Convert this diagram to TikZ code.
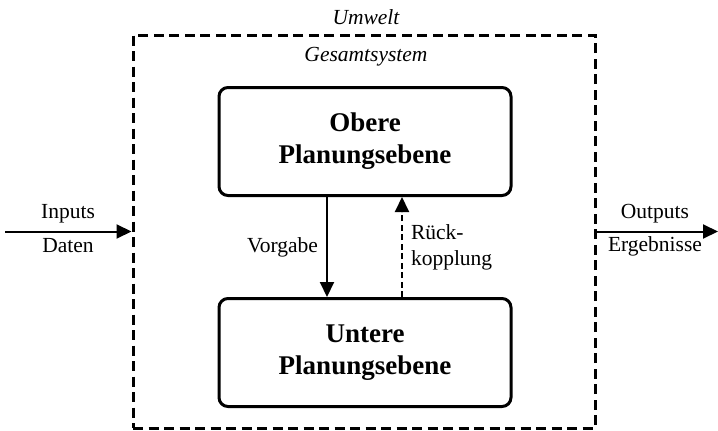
\documentclass[tikz,border=0pt]{standalone}
\usepackage{fontspec}
\setmainfont{Liberation Serif}
\usepackage{tikz}
\usetikzlibrary{arrows.meta, positioning, calc}
\tikzset{
  planbox/.style={rectangle, draw=black, fill=white,
    minimum width=292pt, minimum height=108pt, align=center,
    font=\fontsize{27}{32}\selectfont\bfseries, rounded corners=9pt, line width=3pt},
  sysbox/.style={rectangle, draw=black, dash pattern=on 10pt off 5.5pt,
    minimum width=462pt, minimum height=393pt, line width=3pt},
  lbl/.style={font=\fontsize{21.5}{26}\selectfont, inner sep=2pt},
  itlbl/.style={font=\fontsize{21.5}{26}\selectfont\itshape, inner sep=2pt},
  arrow/.style={-{Triangle[length=15pt,width=14pt]}, line width=2pt, color=black},
  dasharrow/.style={arrow, dash pattern=on 6pt off 3.5pt}
}
\begin{document}
\begin{tikzpicture}[x=1pt, y=-1pt]
  \useasboundingbox (0,0) rectangle (718,431);

  % Gesamtsystem
  \node[sysbox] (sys) at (364,231.5) {};
  \node[itlbl] (umwelt) at (366,17) {Umwelt};
  \node[itlbl] (gesamt) at (366,57) {Gesamtsystem};

  % Planungsebenen
  \node[planbox] (obere) at (365,141.5) {Obere\\Planungsebene};
  \node[planbox] (untere) at (365,352.5) {Untere\\Planungsebene};

  \draw[arrow] ([xshift=-38pt]obere.south) -- ([xshift=-38pt]untere.north)
    node[lbl, midway, left=6pt] (vorgabe) {Vorgabe};
  \draw[dasharrow] ([xshift=37pt]untere.north) -- ([xshift=37pt]obere.south)
    node[lbl, midway, right=6pt, align=left] (rueck) {Rück-\\kopplung};

  % Inputs und Outputs
  \coordinate (in) at (5,231.5);
  \coordinate (out) at (718,231.5);
  \draw[arrow] (in) -- (sys.west);
  \draw[arrow] (sys.east) -- (out);
  \node[lbl] (inputs) at (68,214) {Inputs};
  \node[lbl] (daten) at (68,246) {Daten};
  \node[lbl] (outputs) at (655,214) {Outputs};
  \node[lbl] (ergebnisse) at (655,246) {Ergebnisse};
\end{tikzpicture}
\end{document}
